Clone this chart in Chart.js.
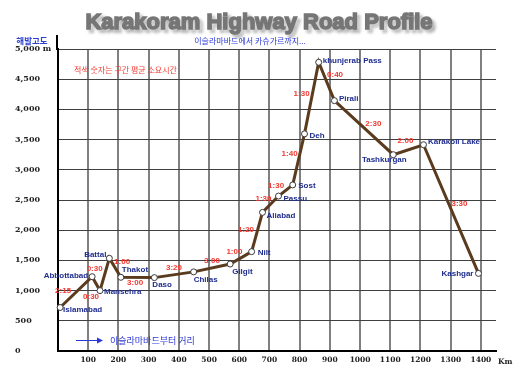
<!DOCTYPE html>
<html><head><meta charset="utf-8">
<script src="https://cdn.jsdelivr.net/npm/chart.js@4"></script>
<style>html,body{margin:0;padding:0;background:#fff}#wrap{width:520px;height:375px}</style>
</head><body><div id="wrap"><canvas id="c" width="520" height="375"></canvas></div>
<script>
// ---- data ----
const chartTitle = 'Karakoram Highway Road Profile';
const places = ['Islamabad','Abbottabad','Mansehra','Battal','Thakot','Daso','Chilas','Gilgit','Nilt','Aliabad','Passu','Sost','Deh','khunjerab Pass','Pirali','Tashkurgan','Karakoli Lake','Kashgar'];
const distanceKm = [7, 113, 139, 170, 208, 319, 449, 570, 641, 677, 730, 777, 816, 863, 915, 1110, 1210, 1392];
const elevationM = [720, 1230, 1000, 1535, 1220, 1215, 1310, 1440, 1645, 2295, 2565, 2750, 3595, 4780, 4145, 3250, 3415, 1285];
const segmentTimes = ['2:15','0:30','0:30','1:00','3:00','3:20','3:00','1:00','1:20','1:30','1:30','1:40','1:30','0:40','2:30','2:00','3:30'];
const yTickValues = [0,500,1000,1500,2000,2500,3000,3500,4000,4500,5000];
const yTickLabels = ['0','500','1,000','1,500','2,000','2,500','3,000','3,500','4,000','4,500','5,000 m'];
const xTickValues = [100,200,300,400,500,600,700,800,900,1000,1100,1200,1300,1400];
const xTickLabels = ['100','200','300','400','500','600','700','800','900','1000','1100','1200','1300','1400'];
const yAxisTitle = '해발고도';
const subtitleText = '이슬라마바드에서 카슈가르까지...';
const timeNote = '적색 숫자는 구간 평균 소요시간';
const xAxisNote = '이슬라마바드부터 거리';
const xUnit = 'Km';

// ---- label layout (pixel offsets relative to library-computed positions) ----
const placeLabelLayout = [
  ['left',3,2.5],['right',-4,-1],['left',4,1.5],['right',-3,-3.5],['left',1,-7.5],['left',-2,7.5],
  ['left',0,8],['left',2,8],['left',6,1.5],['left',4,3.5],['left',5,3],['left',5.5,1],
  ['left',5,1.5],['left',4,-1],['left',4.5,-2],['center',-9,5.5],['left',4.5,-2.5],['right',-5,0]
];
const timeLabelLayout = [
  [-13,-1.5],[-5,13],[-10,-5.5],[7,-6],[-2.5,5],[0,-6.5],[0,-7],[-6.5,-6],[-11,-2],
  [-7,-5],[-9.5,-4.5],[-9,-6],[-10,-4],[8.5,-6.5],[9.5,-3.7],[-3,-8.7],[8.5,-5.7]
];

const PLACE_FONT = 'bold 8px "Liberation Sans", Arial, sans-serif';
const KR = '"Noto Sans CJK KR", sans-serif';

const labelPlugin = {
  id: 'labels',
  afterDatasetsDraw(chart) {
    const ctx = chart.ctx;
    const pts = chart.getDatasetMeta(0).data;
    ctx.save();
    ctx.textBaseline = 'middle';
    ctx.font = 'bold 8px "Liberation Sans", Arial, sans-serif';
    ctx.fillStyle = '#f23a32';
    ctx.textAlign = 'center';
    segmentTimes.forEach((t, i) => {
      const a = pts[i], b = pts[i+1];
      const [dx, dy] = timeLabelLayout[i];
      ctx.fillText(t, (a.x + b.x) / 2 + dx, (a.y + b.y) / 2 + dy);
    });
    ctx.font = PLACE_FONT;
    ctx.fillStyle = '#1f2d8f';
    places.forEach((p, i) => {
      const [al, dx, dy] = placeLabelLayout[i];
      ctx.textAlign = al;
      ctx.fillText(p, pts[i].x + dx, pts[i].y + dy);
    });
    ctx.restore();
  },
  afterDraw(chart) {
    const ctx = chart.ctx;
    const ca = chart.chartArea;
    ctx.save();
    ctx.strokeStyle = '#000';
    ctx.lineWidth = 2;
    ctx.beginPath();
    ctx.moveTo(ca.left - 1, ca.top - 14);
    ctx.lineTo(ca.left - 1, ca.top + 1);
    ctx.stroke();
    // title
    ctx.font = 'bold 22px "Liberation Sans", Arial, sans-serif';
    ctx.textAlign = 'center';
    ctx.textBaseline = 'alphabetic';
    ctx.shadowColor = 'rgba(0,0,0,0.38)';
    ctx.shadowOffsetX = 3; ctx.shadowOffsetY = 3; ctx.shadowBlur = 3;
    ctx.fillStyle = '#767676';
    ctx.strokeStyle = '#767676';
    ctx.lineWidth = 1.5;
    ctx.strokeText(chartTitle, 259, 28.5);
    ctx.shadowColor = 'transparent';
    ctx.fillText(chartTitle, 259, 28.5);
    ctx.shadowOffsetX = 0; ctx.shadowOffsetY = 0; ctx.shadowBlur = 0;
    // y axis title
    ctx.textBaseline = 'middle';
    ctx.font = 'bold 8.5px ' + KR;
    ctx.fillStyle = '#2b3fd0';
    ctx.fillText(yAxisTitle, 32, 41);
    // subtitle
    ctx.font = '8px ' + KR;
    ctx.fillStyle = '#2a36d6';
    ctx.fillText(subtitleText, 250, 40.5);
    // red note
    ctx.textAlign = 'left';
    ctx.fillStyle = '#f23a32';
    ctx.fillText(timeNote, 74, 69.5);
    // x axis note with arrow
    ctx.strokeStyle = '#2a36d6';
    ctx.lineWidth = 1;
    ctx.beginPath();
    ctx.moveTo(76, 340.5); ctx.lineTo(98, 340.5); ctx.stroke();
    ctx.fillStyle = '#2a36d6';
    ctx.beginPath();
    ctx.moveTo(97, 337.5); ctx.lineTo(103, 340.5); ctx.lineTo(97, 343.5); ctx.closePath(); ctx.fill();
    ctx.font = '9px ' + KR;
    ctx.fillText(xAxisNote, 110, 340.5);
    // unit
    ctx.font = 'bold 7.5px "DejaVu Serif", serif';
    ctx.fillStyle = '#222';
    ctx.fillText(xUnit, 498, 362);
    ctx.restore();
  }
};

const TICK_FONT = { family: '"DejaVu Serif", serif', size: 8, weight: 'bold' };

new Chart(document.getElementById('c'), {
  type: 'line',
  data: {
    datasets: [{
      data: distanceKm.map((x, i) => ({ x, y: elevationM[i] })),
      borderColor: '#5a3b1e',
      borderWidth: 3,
      pointRadius: 3,
      pointBackgroundColor: '#fff',
      pointBorderColor: '#3a3a3a',
      pointBorderWidth: 1,
      tension: 0,
      clip: false
    }]
  },
  options: {
    responsive: false,
    animation: false,
    devicePixelRatio: 1,
    layout: { padding: { left: 15, top: 49, right: 24, bottom: 0 } },
    plugins: { legend: { display: false }, tooltip: { enabled: false }, title: { display: false } },
    scales: {
      x: {
        type: 'linear', min: 0, max: 1450,
        afterBuildTicks: s => { s.ticks = xTickValues.map(v => ({ value: v })); },
        afterFit: s => { s.height = 24; },
        grid: { color: '#808080', lineWidth: 2, drawTicks: false },
        border: { color: '#000', width: 2 },
        ticks: { font: { ...TICK_FONT, size: 7.5 }, color: '#222', padding: 5, maxRotation: 0, autoSkip: false,
                 callback: (v, i) => xTickLabels[i] }
      },
      y: {
        min: 0, max: 5000,
        afterBuildTicks: s => { s.ticks = yTickValues.map(v => ({ value: v })); },
        afterFit: s => { s.width = 43; },
        grid: { color: '#404040', lineWidth: 1, drawTicks: false },
        border: { color: '#000', width: 2 },
        ticks: { font: TICK_FONT, color: '#222', crossAlign: 'far', padding: 0, autoSkip: false,
                 callback: (v, i) => yTickLabels[i] }
      }
    }
  },
  plugins: [labelPlugin]
});
</script>
</body></html>
